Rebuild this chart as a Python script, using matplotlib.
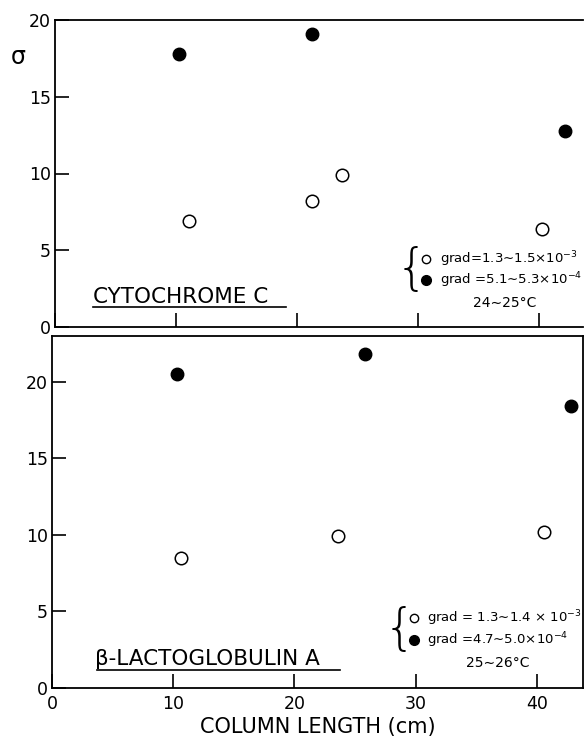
import matplotlib.pyplot as plt

# cytochrome c, two gradient ranges
cyt_open_x = [11.1, 21.2, 23.7, 40.2]
cyt_open_y = [6.9, 8.2, 9.9, 6.4]
cyt_fill_x = [10.2, 21.2, 42.1]
cyt_fill_y = [17.8, 19.1, 12.8]

# beta-lactoglobulin A
lac_open_x = [10.6, 23.6, 40.6]
lac_open_y = [8.5, 9.9, 10.2]
lac_fill_x = [10.3, 25.8, 42.8]
lac_fill_y = [20.5, 21.8, 18.4]

plt.rcParams['font.family'] = ['DejaVu Sans']

fig = plt.figure(figsize=(5.84, 7.41), dpi=100)
ax1 = fig.add_axes([55/584, 1-327/741, 528/584, 307/741])
ax2 = fig.add_axes([52/584, 1-688/741, 531/584, 352/741])

ms = 9
for ax, ox, oy, fx, fy in [(ax1, cyt_open_x, cyt_open_y, cyt_fill_x, cyt_fill_y),
                           (ax2, lac_open_x, lac_open_y, lac_fill_x, lac_fill_y)]:
    ax.plot(ox, oy, 'o', ms=ms, mfc='white', mec='black', mew=1.1, ls='none', clip_on=False)
    ax.plot(fx, fy, 'o', ms=ms, mfc='black', mec='black', ls='none', clip_on=False)
    ax.tick_params(direction='in', length=10, width=1.2, labelsize=12.5,
                   top=False, right=False, pad=3)
    for s in ax.spines.values():
        s.set_linewidth(1.3)
    ax.set_xticks([0, 10, 20, 30, 40])

ax1.set_xlim(0, 43.6)
ax1.set_ylim(0, 20)
ax1.set_yticks([0, 5, 10, 15, 20])
ax1.tick_params(axis='x', labelbottom=False)
ax1.spines['right'].set_visible(False)

ax2.set_xlim(0, 43.8)
ax2.set_ylim(0, 23)
ax2.set_yticks([0, 5, 10, 15, 20])
ax2.tick_params(axis='x', pad=5)
ax2.set_xlabel('COLUMN LENGTH (cm)', fontsize=15, labelpad=3)

fig.text(18/584, 1-57/741, 'σ', fontsize=17, ha='center', va='center')

# protein names, underlined
ax1.text(0.072, 0.078, 'CYTOCHROME C', transform=ax1.transAxes, fontsize=15.5,
         ha='left', va='baseline')
ax1.plot([0.072, 0.438], [0.066, 0.066], color='black', lw=1.2, transform=ax1.transAxes)
ax2.text(0.081, 0.065, 'β-LACTOGLOBULIN A', transform=ax2.transAxes, fontsize=15.5,
         ha='left', va='baseline')
ax2.plot([0.085, 0.542], [0.051, 0.051], color='black', lw=1.2, transform=ax2.transAxes)

# condition keys
def key(ax, bx, by, mx, y_open, y_fill, tx, t_open, t_fill, temp, temp_x, temp_y):
    ax.text(bx, by, '{', transform=ax.transAxes, fontsize=36, ha='center', va='center',
            fontweight='light')
    ax.plot([mx], [y_open], 'o', ms=6, mfc='white', mec='black', mew=1.0,
            transform=ax.transAxes, clip_on=False)
    ax.plot([mx], [y_fill], 'o', ms=7, mfc='black', mec='black',
            transform=ax.transAxes, clip_on=False)
    ax.text(tx, y_open, t_open, transform=ax.transAxes, fontsize=9.5, va='center')
    ax.text(tx, y_fill, t_fill, transform=ax.transAxes, fontsize=9.5, va='center')
    ax.text(temp_x, temp_y, temp, transform=ax.transAxes, fontsize=10,
            ha='center', va='center')

key(ax1, 0.676, 0.186, 0.703, 0.222, 0.154, 0.730,
    'grad=1.3∼1.5×10$^{-3}$', 'grad =5.1∼5.3×10$^{-4}$',
    '24∼25°C', 0.852, 0.078)
key(ax2, 0.655, 0.164, 0.682, 0.198, 0.136, 0.706,
    'grad = 1.3∼1.4 × 10$^{-3}$', 'grad =4.7∼5.0×10$^{-4}$',
    '25∼26°C', 0.840, 0.071)

fig.savefig('out.png', dpi=100)
